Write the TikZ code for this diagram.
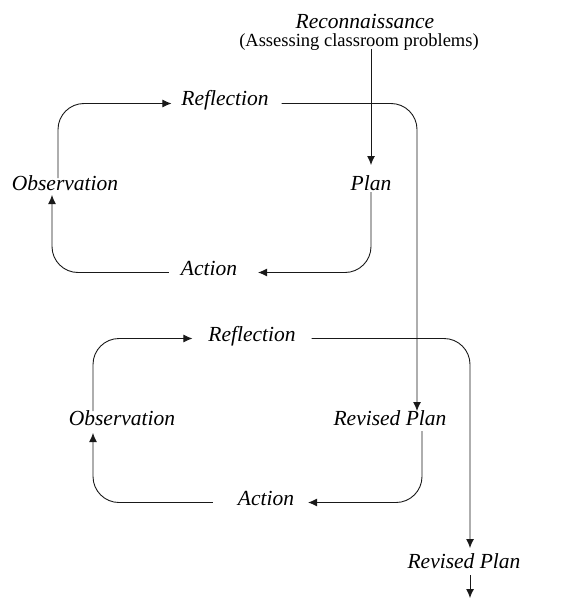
\documentclass[tikz,border=0pt]{standalone}
\usepackage{fontspec}
\setmainfont{Liberation Serif}
\usetikzlibrary{arrows.meta}
\begin{document}
\begin{tikzpicture}[x=1pt,y=-1pt,
  lab/.style={font=\fontsize{21.5}{24}\selectfont\itshape, inner sep=0pt, outer sep=0pt, anchor=base, text height=0.7em, text depth=0.2em},
  sub/.style={font=\fontsize{18.5}{22}\selectfont, inner sep=0pt, outer sep=0pt, anchor=base, text height=0.7em, text depth=0.2em},
  conn/.style={line width=0.9pt, draw=black!90, rounded corners=26pt, -{Latex[length=9pt,width=8pt]}}]
\useasboundingbox (0,0) rectangle (577,599);

% texts
\node[lab] (recon) at (365,29) {Reconnaissance};
\node[sub] (assess) at (359,47) {(Assessing classroom problems)};
\node[lab] (refl1) at (225,106) {Reflection};
\node[lab] (obs1) at (65,190) {Observation};
\node[lab] (plan) at (371,190) {Plan};
\node[lab] (act1) at (209,275) {Action};
\node[lab] (refl2) at (252,341) {Reflection};
\node[lab] (obs2) at (122,425) {Observation};
\node[lab] (rp1) at (390,425) {Revised Plan};
\node[lab] (act2) at (266,505) {Action};
\node[lab] (rp2) at (464,568) {Revised Plan};
\coordinate (fin) at (470,598);

% first cycle
\draw[conn, shorten >=18pt] (plan.north |- assess.south) -- (plan.north);
\draw[conn, shorten <=5pt, shorten >=10pt] ([xshift=-7pt]obs1.north) |- (refl1.west);
\draw[conn, shorten <=13pt, shorten >=7pt] (refl1.east) -| ([xshift=27pt]rp1.north);
\draw[conn, shorten <=0pt, shorten >=21pt] (plan.south) |- (act1.east);
\draw[conn, shorten <=12pt, shorten >=3pt] (act1.west) -| ([xshift=-13pt]obs1.south);

% second cycle
\draw[conn, shorten <=7pt, shorten >=16pt] ([xshift=-29pt]obs2.north) |- (refl2.west);
\draw[conn, shorten <=16pt, shorten >=13pt] (refl2.east) -| ([xshift=6pt]rp2.north);
\draw[conn, shorten <=4pt, shorten >=14pt] ([xshift=32pt]rp1.south) |- (act2.east);
\draw[conn, shorten <=25pt, shorten >=6pt] (act2.west) -| ([xshift=-29pt]obs2.south);
\draw[conn, shorten <=5pt] ([xshift=6pt]rp2.south) -- (fin);
\end{tikzpicture}
\end{document}
